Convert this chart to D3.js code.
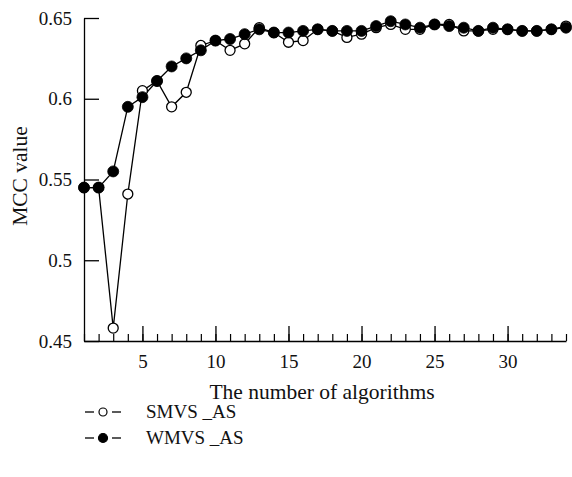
<!DOCTYPE html>
<html>
<head>
<meta charset="utf-8">
<script src="https://cdn.jsdelivr.net/npm/d3@7"></script>
<style>
  html, body { margin: 0; padding: 0; background: #fff; }
  svg text { font-family: "Liberation Serif", "DejaVu Serif", serif; fill: #111; }
</style>
</head>
<body>
<svg id="chart" width="572" height="477"></svg>
<script>
// ---- data ----
const xValues = d3.range(1, 35);
const smvsValues = [0.545, 0.545, 0.458, 0.541, 0.605, 0.611, 0.595, 0.604, 0.633, 0.636,
  0.630, 0.634, 0.644, 0.641, 0.635, 0.636, 0.643, 0.642, 0.638, 0.640,
  0.644, 0.646, 0.643, 0.643, 0.646, 0.646, 0.642, 0.642, 0.643, 0.643,
  0.642, 0.642, 0.643, 0.645];
const wmvsValues = [0.545, 0.545, 0.555, 0.595, 0.601, 0.611, 0.620, 0.625, 0.630, 0.636,
  0.637, 0.640, 0.643, 0.641, 0.641, 0.642, 0.643, 0.642, 0.642, 0.642,
  0.645, 0.648, 0.646, 0.644, 0.646, 0.645, 0.644, 0.642, 0.644, 0.643,
  0.642, 0.642, 0.643, 0.644];
const seriesNames = ["SMVS _AS", "WMVS _AS"];
const yTickValues = [0.45, 0.5, 0.55, 0.6, 0.65];
const xMajorTicks = [5, 10, 15, 20, 25, 30];
const xLabel = "The number of algorithms";
const yLabel = "MCC value";

// ---- layout ----
const svg = d3.select("#chart");
const pLeft = 84, pRight = 566, pTop = 18, pBottom = 341;
const serif = '"Liberation Serif", "DejaVu Serif", serif';

const x = d3.scaleLinear().domain([1, 34]).range([pLeft, pRight]);
const y = d3.scaleLinear().domain([0.45, 0.65]).range([pBottom, pTop]);

// axes
const yAxis = d3.axisLeft(y).tickValues(yTickValues)
  .tickFormat(d => String(+d.toFixed(2))).tickSizeInner(-15).tickSizeOuter(0).tickPadding(12);
const gy = svg.append("g").attr("transform", `translate(${pLeft},0)`).call(yAxis)
  .attr("font-family", serif);
gy.select(".domain").attr("stroke", "#000").attr("stroke-width", 1.3);
gy.selectAll(".tick line").attr("stroke", "#000").attr("stroke-width", 1.3);
gy.selectAll(".tick text").attr("font-size", 19).attr("fill", "#111").style("font-family", serif);

const xMinor = d3.axisBottom(x).tickValues(xValues).tickSizeInner(-7).tickSizeOuter(0).tickFormat("");
const gxm = svg.append("g").attr("transform", `translate(0,${pBottom})`).call(xMinor);
gxm.select(".domain").attr("stroke", "#000").attr("stroke-width", 1.3);
gxm.selectAll(".tick line").attr("stroke", "#000").attr("stroke-width", 1.2);

const xAxis = d3.axisBottom(x).tickValues(xMajorTicks).tickSizeInner(-15).tickSizeOuter(0).tickPadding(13.5);
const gx = svg.append("g").attr("transform", `translate(0,${pBottom})`).call(xAxis)
  .attr("font-family", serif);
gx.select(".domain").remove();
gx.selectAll(".tick line").attr("stroke", "#000").attr("stroke-width", 1.3);
gx.selectAll(".tick text").attr("font-size", 19).attr("fill", "#111").style("font-family", serif);

// labels
svg.append("text").attr("x", 322).attr("y", 399).attr("text-anchor", "middle")
  .attr("font-size", 21.5).text(xLabel);
svg.append("text").attr("transform", "translate(27,176) rotate(-90)").attr("text-anchor", "middle")
  .attr("font-size", 21.5).text(yLabel);

// lines
const line = d3.line().x((d, i) => x(xValues[i])).y(d => y(d));
svg.append("path").datum(smvsValues).attr("d", line).attr("fill", "none")
  .attr("stroke", "#000").attr("stroke-width", 1.3);
svg.append("path").datum(wmvsValues).attr("d", line).attr("fill", "none")
  .attr("stroke", "#000").attr("stroke-width", 1.3);

// markers
svg.append("g").selectAll("circle").data(smvsValues).join("circle")
  .attr("cx", (d, i) => x(xValues[i])).attr("cy", d => y(d)).attr("r", 5)
  .attr("fill", "#fff").attr("stroke", "#000").attr("stroke-width", 1.3);
svg.append("g").selectAll("circle").data(wmvsValues).join("circle")
  .attr("cx", (d, i) => x(xValues[i])).attr("cy", d => y(d)).attr("r", 5.5)
  .attr("fill", "#000").attr("stroke", "#000").attr("stroke-width", 0.8);

// legend
const legend = svg.append("g");
seriesNames.forEach((name, i) => {
  const ly = 412 + i * 26;
  const g = legend.append("g");
  g.append("line").attr("x1", 85).attr("x2", 94).attr("y1", ly).attr("y2", ly).attr("stroke", "#000").attr("stroke-width", 1.3);
  g.append("line").attr("x1", 112).attr("x2", 121).attr("y1", ly).attr("y2", ly).attr("stroke", "#000").attr("stroke-width", 1.3);
  g.append("circle").attr("cx", 103).attr("cy", ly).attr("r", i === 0 ? 4 : 4.5)
    .attr("fill", i === 0 ? "#fff" : "#000").attr("stroke", "#000").attr("stroke-width", 1.2);
  g.append("text").attr("x", 146).attr("y", ly + 6).attr("font-size", 19).text(name);
});
</script>
</body>
</html>
